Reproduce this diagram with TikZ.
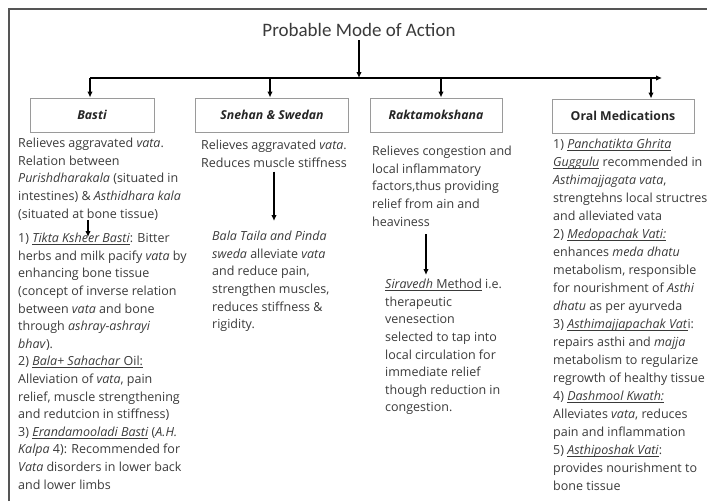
\documentclass[tikz,border=0pt]{standalone}
\usepackage{fontspec}
\setmainfont{Open Sans}
\newfontfamily\titlefont{Carlito}
\usetikzlibrary{arrows.meta}
\definecolor{textgray}{HTML}{3A3A3A}
\definecolor{boxgray}{HTML}{9A9A9A}
\definecolor{framegray}{HTML}{555555}
\newcommand{\uln}[1]{\setbox0\hbox{#1}\rlap{\rule[-2pt]{\wd0}{0.6pt}}\box0\relax}

\begin{document}
\begin{tikzpicture}[x=1pt,y=-1pt,
  headbox/.style={draw=boxgray, line width=0.9pt, minimum height=34pt, inner sep=0pt, text=black!85, font=\fontsize{12.3}{14}\selectfont\bfseries\itshape},
  bodytext/.style={anchor=north west, inner sep=0pt, align=left, text=textgray, font=\fontsize{12.5}{17.6}\selectfont},
  arr/.style={-{Latex[length=6pt,width=5.5pt]}, line width=1.4pt}]
\useasboundingbox (0,0) rectangle (707,501);
\draw[framegray, line width=1.6pt] (9,501) -- (9,9) -- (707,9);
% title and main branches
\node[text=textgray, font=\titlefont\fontsize{19}{21}\selectfont] (title) at (359,30) {Probable Mode of Action};
\coordinate (hl) at (90,78);
\coordinate (hr) at (662,78);
\draw[arr] (title.south) -- (title.south |- hl);
\draw[arr] (hl) -- (hr);
% headers
\node[headbox, minimum width=124pt] (basti) at (92,115) {Basti};
\node[headbox, minimum width=153pt] (snehan) at (272,115) {Snehan \& Swedan};
\node[headbox, minimum width=132pt] (rakta) at (436,115) {Raktamokshana};
\node[headbox, minimum width=142pt, font=\fontsize{12.3}{14}\selectfont\bfseries] (oral) at (623,116) {Oral Medications};
\coordinate (drop1) at (90,78);
\coordinate (drop2) at (270,78);
\coordinate (drop3) at (441,78);
\coordinate (drop4) at (651,78);
\draw[arr] (drop1) -- (drop1 |- basti.north);
\draw[arr] (drop2) -- (drop2 |- snehan.north);
\draw[arr] (drop3) -- (drop3 |- rakta.north);
\draw[arr] (drop4) -- (drop4 |- oral.north);
% Basti
\node[bodytext] (bastiA) at (18,138) {Relieves aggravated \textit{vata}.\\Relation between\\\textit{Purishdharakala} (situated in\\intestines) \& \textit{Asthidhara kala}\\(situated at bone tissue)};
\node[bodytext] (bastiB) at (18,233) {1) \uln{\textit{Tikta Ksheer Basti}}: Bitter\\herbs and milk pacify \textit{vata} by\\enhancing bone tissue\\(concept of inverse relation\\between \textit{vata} and bone\\through \textit{ashray-ashrayi}\\\textit{bhav}).\\2) \uln{\textit{Bala+ Sahachar} Oil:}\\Alleviation of \textit{vata}, pain\\relief, muscle strengthening\\and redutcion in stiffness)\\3) \uln{\textit{Erandamooladi Basti}} (\textit{A.H.}\\\textit{Kalpa} 4): Recommended for\\\textit{Vata} disorders in lower back\\and lower limbs};
\coordinate (bastiTip) at (88,237);
\draw[arr, line width=1.1pt] (bastiA.south -| bastiTip) -- (bastiTip);
% Snehan & Swedan
\node[bodytext, anchor=north, align=center] (snehanA) at (274,140) {Relieves aggravated \textit{vata}.\\Reduces muscle stiffness};
\node[bodytext] (snehanB) at (212,231) {\textit{Bala Taila and Pinda}\\\textit{sweda} alleviate \textit{vata}\\and reduce pain,\\strengthen muscles,\\reduces stiffness \&\\rigidity.};
\draw[arr] ([yshift=-4pt]snehanA.south) -- ([yshift=10pt]snehanB.north -| snehanA.south);
% Raktamokshana
\node[bodytext] (raktaA) at (372,146) {Relieves congestion and\\local inflammatory\\factors,thus providing\\relief from ain and\\heaviness};
\node[bodytext] (raktaB) at (385,279) {\uln{\textit{Siravedh} Method} i.e.\\therapeutic\\venesection\\selected to tap into\\local circulation for\\immediate relief\\though reduction in\\congestion.};
\coordinate (raktaX) at (426,0);
\draw[arr] ([yshift=-8pt]raktaA.south -| raktaX) -- ([yshift=4pt]raktaB.north -| raktaX);
% Oral Medications
\node[bodytext, font=\fontsize{12.5}{18}\selectfont] (oralA) at (553,139) {1) \uln{\textit{Panchatikta Ghrita}}\\\uln{\textit{Guggulu}} recommended in\\\textit{Asthimajjagata vata},\\strengtehns local structres\\and alleviated vata\\2) \uln{\textit{Medopachak Vati:}}\\enhances \textit{meda dhatu}\\metabolism, responsible\\for nourishment of \textit{Asthi}\\\textit{dhatu} as per ayurveda\\3) \uln{\textit{Asthimajjapachak Vat}}i:\\repairs asthi and \textit{majja}\\metabolism to regularize\\regrowth of healthy tissue\\4) \uln{\textit{Dashmool Kwath:}}\\Alleviates \textit{vata}, reduces\\pain and inflammation\\5) \uln{\textit{Asthiposhak Vati}}:\\provides nourishment to\\bone tissue};
\end{tikzpicture}
\end{document}
